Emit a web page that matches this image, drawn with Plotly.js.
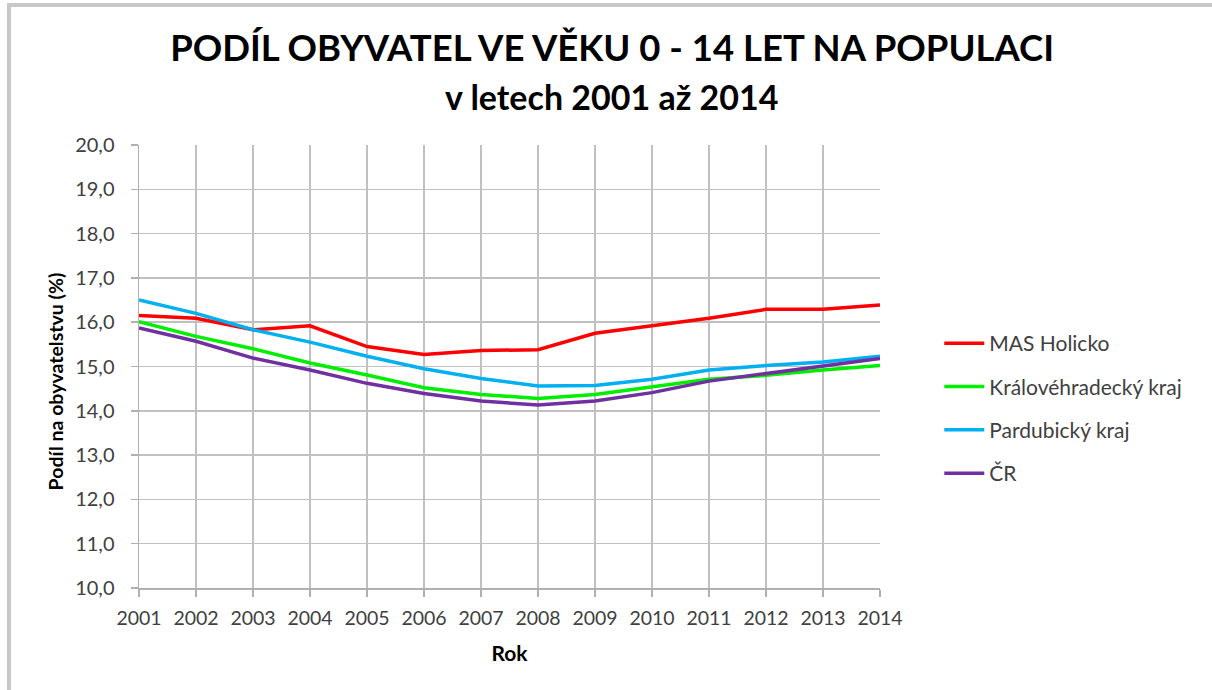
<!DOCTYPE html>
<html>
<head>
<meta charset="utf-8">
<script src="https://cdn.plot.ly/plotly-3.0.1.min.js"></script>
<style>
html,body{margin:0;padding:0;background:#fff;}
#wrap{position:relative;width:1212px;height:690px;overflow:hidden;}
#chart{position:absolute;left:0;top:0;width:1212px;height:690px;}
.bt{position:absolute;left:7px;top:3px;width:1205px;height:4px;background:#c8c8c8;}
.bl{position:absolute;left:7px;top:3px;width:4px;height:687px;background:#c8c8c8;}
</style>
</head>
<body>
<div id="wrap"><div id="chart"></div><div class="bt"></div><div class="bl"></div></div>
<script>
const years = [2001,2002,2003,2004,2005,2006,2007,2008,2009,2010,2011,2012,2013,2014];
const masHolicko = [16.15,16.09,15.83,15.92,15.45,15.27,15.36,15.38,15.75,15.92,16.09,16.29,16.29,16.39];
const kralovehradecky = [16.01,15.68,15.40,15.08,14.81,14.52,14.37,14.28,14.37,14.55,14.71,14.80,14.92,15.02];
const pardubicky = [16.50,16.20,15.83,15.55,15.23,14.95,14.73,14.56,14.57,14.71,14.92,15.02,15.10,15.23];
const cr = [15.87,15.57,15.19,14.92,14.62,14.39,14.22,14.13,14.22,14.41,14.67,14.84,15.02,15.18];
const seriesNames = ['MAS Holicko','Královéhradecký kraj','Pardubický kraj','ČR'];
const seriesColors = ['#ff0000','#00ee00','#00b0f0','#7030a0'];
const seriesData = [masHolicko, kralovehradecky, pardubicky, cr];
const titleText = 'PODÍL OBYVATEL VE VĚKU 0 - 14 LET NA POPULACI';
const subtitleText = 'v letech 2001 až 2014';
const yTitleText = 'Podíl na obyvatelstvu (%)';
const xTitleText = 'Rok';

const traces = seriesData.map((d,i)=>({
  x: years, y: d, type:'scatter', mode:'lines', name: seriesNames[i],
  legendgroup: 'g'+i,
  line:{color: seriesColors[i], width:3.5}
}));

const font = 'Lato, "Open Sans", sans-serif';
const layout = {
  width:1212, height:690,
  paper_bgcolor:'#fff', plot_bgcolor:'#fff',
  separators:',.',
  margin:{l:139, r:332, t:145, b:102},
  font:{family:font, color:'#404040', size:19},
  title:{
    text:'<b>'+titleText+'</b>',
    font:{family:font, size:36.5, color:'#000'},
    x:0.505, xref:'container', xanchor:'center',
    y:0.930, yref:'container', yanchor:'middle'
  },
  annotations:[{
    text:'<b>'+subtitleText+'</b>', showarrow:false,
    xref:'paper', yref:'paper', x:0.638, y:1.11, xanchor:'center', yanchor:'middle',
    font:{family:font, size:34, color:'#000'}
  },{
    text:'<b>'+yTitleText+'</b>', showarrow:false, textangle:-90,
    xref:'paper', yref:'paper', x:-0.113, y:0.467, xanchor:'center', yanchor:'middle',
    font:{family:font, size:19.5, color:'#000'}
  }],
  xaxis:{
    range:[2001,2014], tickmode:'array', tickvals:years, ticktext:years.map(String),
    showgrid:true, gridcolor:'#c0c0c0', gridwidth:1.5,
    showline:true, linecolor:'#b0b0b0', linewidth:1.5,
    ticks:'outside', ticklen:7, tickcolor:'#b0b0b0', tickwidth:1.5,
    ticklabelstandoff:5,
    tickfont:{size:19.5, color:'#404040'},
    zeroline:false,
    title:{text:'<b>'+xTitleText+'</b>', font:{size:21, color:'#000'}, standoff:18}
  },
  yaxis:{
    range:[10,20], dtick:1, tick0:10, tickformat:'.1f',
    showgrid:true, gridcolor:'#c0c0c0', gridwidth:1.5,
    showline:true, linecolor:'#b0b0b0', linewidth:1.5,
    ticks:'outside', ticklen:7, tickcolor:'#b0b0b0', tickwidth:1.5,
    ticklabelstandoff:12,
    tickfont:{size:20, color:'#404040'},
    zeroline:false
  },
  showlegend:true,
  legend:{x:1.08, xanchor:'left', y:0.405, yanchor:'middle', font:{size:21, color:'#404040'},
    tracegroupgap:13, bgcolor:'rgba(0,0,0,0)', itemwidth:40}
};
Plotly.newPlot('chart', traces, layout, {displayModeBar:false, staticPlot:true});
</script>
</body>
</html>
